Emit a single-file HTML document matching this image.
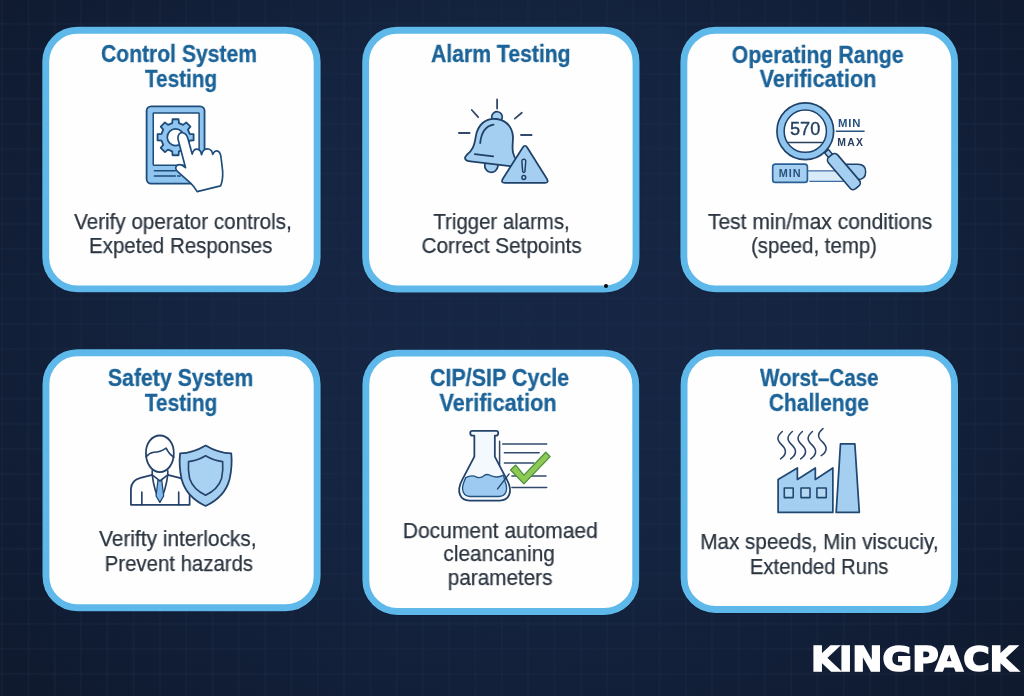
<!DOCTYPE html>
<html lang="en">
<head>
<meta charset="utf-8">
<title>Kingpack – Equipment Qualification Tests</title>
<style>
*{box-sizing:border-box;margin:0;padding:0}
html,body{width:1024px;height:696px;overflow:hidden}
body{position:relative;font-family:"Liberation Sans",sans-serif;background:#14223c;
 background-image:
  radial-gradient(ellipse 64% 76% at 50% 45%, rgba(26,46,82,.60) 0%, rgba(26,46,82,.52) 45%, rgba(26,46,82,.26) 74%, rgba(26,46,82,.0) 100%),
  linear-gradient(to right, rgba(120,150,200,.045) 0, rgba(120,150,200,.045) 1.7px, transparent 1.7px),
  linear-gradient(to bottom, rgba(120,150,200,.045) 0, rgba(120,150,200,.045) 1.7px, transparent 1.7px),
  linear-gradient(#0f1a2f,#0f1a2f);
 background-size:100% 100%, 26.3px 26.3px, 25px 25px, 100% 100%;
 background-position:0 0, 1.2px 0, 0 22.8px, 0 0;
}
.card{position:absolute}
.card h3,.card p{font-weight:normal;font-size:0}
.ln{position:absolute;display:block;white-space:pre;line-height:24px;transform-origin:50% 50%;will-change:transform}
.title .ln{font-weight:bold;font-size:23.0px;color:#1b6398;-webkit-text-stroke:.3px #1b6398}
.body .ln{font-size:21.4px;color:#2b3540;-webkit-text-stroke:.25px #2b3540}
.icon{position:absolute;left:0;top:0;overflow:visible;will-change:transform}
.dot{position:absolute;left:603.6px;top:283.9px;width:4.6px;height:4.6px;border-radius:50%;background:#05070c}
.logo{position:absolute;left:811.2px;top:638.6px;font-family:"DejaVu Sans","Liberation Sans",sans-serif;font-weight:bold;font-size:33.9px;line-height:42px;color:#fff;letter-spacing:0;white-space:nowrap;-webkit-text-stroke:1.6px #fff;transform-origin:0 50%;transform:scaleX(1.064);will-change:transform}
</style>
</head>
<body>
<main>

<section class="card" style="left:40px;top:24px;width:283px;height:271px">
<svg class="icon" width="283" height="271" viewBox="40 24 283 271" aria-hidden="true">
<rect x="41.70" y="26.20" width="279.50" height="266.70" rx="35.6" fill="#0a1730" opacity=".55"/>
<rect x="45.75" y="30.25" width="271.40" height="258.60" rx="31.55" fill="#fefefe" stroke="#5eb9ea" stroke-width="6.9"/>
<g transform="translate(130 95) scale(0.15090)" stroke="#1e4c7b" stroke-linejoin="round" stroke-linecap="round">
<rect x="110" y="75" width="384" height="512" rx="30" fill="#8fc5ee" stroke-width="12"/>
<rect x="154" y="119" width="304" height="346" rx="4" fill="#fff" stroke-width="10"/>
<path d="M162 502H300M162 537H300M316 537H332" fill="none" stroke-width="11"/>
<path d="M279.6,186.7 L282.1,160.6 L321.9,160.6 L324.4,186.7 L352.2,198.1 L372.4,181.6 L400.4,209.6 L383.9,229.8 L395.3,257.6 L421.4,260.1 L421.4,299.9 L395.3,302.4 L383.9,330.2 L400.4,350.4 L372.4,378.4 L352.2,361.9 L324.4,373.3 L321.9,399.4 L282.1,399.4 L279.6,373.3 L251.8,361.9 L231.6,378.4 L203.6,350.4 L220.1,330.2 L208.7,302.4 L182.6,299.9 L182.6,260.1 L208.7,257.6 L220.1,229.8 L203.6,209.6 L231.6,181.6 L251.8,198.1Z" fill="#8fc5ee" stroke-width="12"/>
<circle cx="302" cy="280" r="55" fill="#fff" stroke-width="11"/>
<path d="M318 292 C314 262 332 246 350 250 C368 254 378 268 384 290 L412 392 C418 368 432 356 450 360 C466 364 472 378 474 396 C480 370 498 354 520 358 C538 362 546 376 548 394 C556 374 572 366 586 374 C598 382 602 398 604 420 L614 505 C616 545 612 575 600 602 L445 640 C432 618 420 600 400 582 L318 510 C302 496 298 478 310 468 C326 456 348 462 368 482 Z" fill="#fff" stroke-width="11"/>
</g>
</svg>
<h3 class="title"><span class="ln" style="left:54.31px;top:18.13px;transform:scaleX(0.9178)">Control System</span><span class="ln" style="left:101.21px;top:42.73px;transform:scaleX(0.9004)">Testing</span></h3>
<p class="body"><span class="ln" style="left:29.65px;top:186.18px;transform:scaleX(0.9633)">Verify operator controls,</span><span class="ln" style="left:45.28px;top:210.28px;transform:scaleX(0.9580)">Expeted Responses</span></p>
</section>
<section class="card" style="left:360px;top:24px;width:282px;height:271px">
<svg class="icon" width="282" height="271" viewBox="360 24 282 271" aria-hidden="true">
<rect x="361.60" y="26.20" width="278.50" height="266.90" rx="35.6" fill="#0a1730" opacity=".55"/>
<rect x="365.65" y="30.25" width="270.40" height="258.80" rx="31.55" fill="#fefefe" stroke="#5eb9ea" stroke-width="6.9"/>
<g stroke="#1f4168" stroke-linejoin="round" stroke-linecap="round">
<path d="M497.1 99.4V108.6M471.8 110L478.2 117.2M514.8 118.6L521.8 112.8M458.9 133H469.6M521 135H531.6" fill="none" stroke="#33496b" stroke-width="1.8"/>
<g transform="translate(497 117) rotate(7)">
<circle cx="0.3" cy="49" r="6.6" fill="#a5cff1" stroke-width="1.7"/>
<circle cx="0" cy="0" r="5.3" fill="#a5cff1" stroke-width="1.7"/>
<path d="M0 2 C11.5 2 18.4 10.5 18.7 22 C19 32 20.5 36.5 25.5 41.5 C28 44.5 26.5 47.2 23 47.2 H-23 C-26.5 47.2 -28 44.5 -25.5 41.5 C-20.5 36.5 -19 32 -18.7 22 C-18.4 10.5 -11.5 2 0 2Z" fill="#a5cff1" stroke-width="1.8"/>
<path d="M-13.5 28 C-13.8 17 -10.5 10.5 -2.5 8" fill="none" stroke-width="1.8"/>
<path d="M-17.5 39.5H1" fill="none" stroke-width="1.7"/>
</g>
<path d="M522.6 147.7 Q525 143.8 527.4 147.7 L547 179 Q549.1 182.9 544.9 182.9 H504.8 Q500.6 182.9 502.7 179 Z" fill="#a5cff1" stroke-width="1.7"/>
<path d="M523.8 159.3 Q525.9 159.3 525.7 161.6 L524.9 171.6 Q523.8 173.2 522.7 171.6 L521.9 161.6 Q521.7 159.3 523.8 159.3Z" fill="#b4d8f4" stroke-width="1.5"/>
<circle cx="523.8" cy="177.5" r="1.9" fill="#b4d8f4" stroke-width="1.5"/>
</g>
</svg>
<h3 class="title"><span class="ln" style="left:64.67px;top:18.33px;transform:scaleX(0.9205)">Alarm Testing</span></h3>
<p class="body"><span class="ln" style="left:70.35px;top:186.18px;transform:scaleX(0.9532)">Trigger alarms,</span><span class="ln" style="left:58.99px;top:210.28px;transform:scaleX(0.9696)">Correct Setpoints</span></p>
</section>
<section class="card" style="left:678px;top:24px;width:283px;height:271px">
<svg class="icon" width="283" height="271" viewBox="678 24 283 271" aria-hidden="true">
<rect x="679.80" y="26.20" width="278.90" height="266.70" rx="35.6" fill="#0a1730" opacity=".55"/>
<rect x="683.85" y="30.25" width="270.80" height="258.60" rx="31.55" fill="#fefefe" stroke="#5eb9ea" stroke-width="6.9"/>
<g transform="translate(760 95) scale(0.15094)" stroke="#1f4168" stroke-linejoin="round" stroke-linecap="round" font-family="'Liberation Sans',sans-serif" font-weight="bold">
<path d="M316 505 H560 V570 H316Z" fill="#d9eaf9" stroke="none"/>
<path d="M316 503 H560 M330 572 H560" fill="none" stroke="#3b6da3" stroke-width="8"/>
<path d="M560 458 H648 Q700 458 700 508 Q700 560 648 560 H600Z" fill="#a5cff1" stroke-width="10"/>
<rect x="84" y="458" width="230" height="121" rx="18" fill="#a5cff1" stroke="#2a5f96" stroke-width="11"/>
<text x="200" y="546" font-size="72" text-anchor="middle" fill="#27527f" stroke="none" letter-spacing="7">MIN</text>
<g transform="translate(472 409) rotate(-40.5)">
<rect x="-17" y="-48" width="34" height="60" fill="#a5cff1" stroke-width="10"/>
<rect x="-40" y="-8" width="80" height="274" rx="26" fill="#a5cff1" stroke-width="11"/>
</g>
<circle cx="300" cy="240" r="188" fill="#8fc5ee" stroke-width="11"/>
<circle cx="300" cy="240" r="140" fill="#fff" stroke-width="10"/>
<text x="299" y="268" font-size="120" text-anchor="middle" fill="#27405f" stroke="#27405f" stroke-width="2.5" font-weight="normal">570</text>
<path d="M186 315H414" fill="none" stroke="#27405f" stroke-width="9"/>
<text x="594" y="211" font-size="75" text-anchor="middle" fill="#27527f" stroke="none" letter-spacing="6">MIN</text>
<path d="M506 240H690" fill="none" stroke="#27527f" stroke-width="9"/>
<text x="601" y="337" font-size="69" text-anchor="middle" fill="#27405f" stroke="none" letter-spacing="8">MAX</text>
</g>
</svg>
<h3 class="title"><span class="ln" style="left:47.45px;top:18.53px;transform:scaleX(0.9282)">Operating Range</span><span class="ln" style="left:78.16px;top:43.13px;transform:scaleX(0.9412)">Verification</span></h3>
<p class="body"><span class="ln" style="left:28.27px;top:186.18px;transform:scaleX(0.9831)">Test min/max conditions</span><span class="ln" style="left:69.89px;top:210.28px;transform:scaleX(0.9543)">(speed, temp)</span></p>
</section>
<section class="card" style="left:40px;top:347px;width:283px;height:267px">
<svg class="icon" width="283" height="267" viewBox="40 347 283 267" aria-hidden="true">
<rect x="41.90" y="348.70" width="279.30" height="263.10" rx="35.6" fill="#0a1730" opacity=".55"/>
<rect x="45.95" y="352.75" width="271.20" height="255.00" rx="31.55" fill="#fefefe" stroke="#5eb9ea" stroke-width="6.9"/>
<g transform="translate(120 425) scale(0.13652)" stroke="#24426a" stroke-linejoin="round" stroke-linecap="round">
<path d="M80 585 V470 Q82 405 150 388 L236 366 L292 440 L350 366 L436 388 Q505 405 510 470 V585Z" fill="#fff" stroke-width="13"/>
<path d="M160 492V585M430 492V585" fill="none" stroke-width="12"/>
<path d="M236 366 Q250 480 292 565 Q335 480 350 366" fill="#fff" stroke-width="12"/>
<path d="M278 406 H306 L320 520 L292 566 L264 520Z" fill="#7fb8ea" stroke-width="9"/>
<path d="M236 335 V366 L292 410 L350 366 V335" fill="#fff" stroke-width="12"/>
<path d="M292 77 C352 77 394 135 394 205 C394 285 350 345 292 345 C234 345 190 285 190 205 C190 135 232 77 292 77Z" fill="#fff" stroke-width="13"/>
<path d="M192 232 Q215 205 248 200 Q296 200 338 170 Q360 215 394 236" fill="none" stroke-width="12"/>
<path d="M627 150 Q720 205 815 208 Q824 300 803 395 Q770 525 627 593 Q484 525 451 395 Q430 300 440 208 Q535 205 627 150Z" fill="#a5cff1" stroke-width="13"/>
<path d="M627 225 Q690 262 752 268 Q757 330 744 392 Q718 472 627 514 Q536 472 510 392 Q497 330 502 268 Q565 262 627 225Z" fill="#a9d1f2" stroke-width="12"/>
</g>
</svg>
<h3 class="title"><span class="ln" style="left:61.92px;top:18.53px;transform:scaleX(0.9253)">Safety System</span><span class="ln" style="left:101.01px;top:43.63px;transform:scaleX(0.9054)">Testing</span></h3>
<p class="body"><span class="ln" style="left:57.48px;top:180.08px;transform:scaleX(0.9738)">Verifty interlocks,</span><span class="ln" style="left:60.78px;top:205.08px;transform:scaleX(0.9523)">Prevent hazards</span></p>
</section>
<section class="card" style="left:360px;top:347px;width:282px;height:270px">
<svg class="icon" width="282" height="270" viewBox="360 347 282 270" aria-hidden="true">
<rect x="361.80" y="349.10" width="278.00" height="266.50" rx="35.6" fill="#0a1730" opacity=".55"/>
<rect x="365.85" y="353.15" width="269.90" height="258.40" rx="31.55" fill="#fefefe" stroke="#5eb9ea" stroke-width="6.9"/>
<g transform="translate(445 420) scale(0.13652)" stroke="#1f4872" stroke-linejoin="round" stroke-linecap="round">
<path d="M400 155V330M422 175H745M435 240H690M435 315H650M490 410H740M490 495H745" fill="none" stroke="#33496b" stroke-width="11"/>
<path d="M200 80 H375 Q390 80 390 97 Q390 115 372 115 H365 V268 L455 440 C500 525 470 590 400 590 H180 C110 590 80 525 125 440 L215 268 V115 H205 Q185 115 185 97 Q185 80 200 80Z" fill="#f4f9fe" stroke="#24426a" stroke-width="13"/>
<path d="M152 422 Q195 398 232 418 Q262 430 290 404 Q312 392 340 410 Q385 428 428 404 L440 450 C468 520 440 560 395 560 H185 C140 560 112 520 140 450 Z" fill="#9ccaf0" stroke="#24527f" stroke-width="10"/>
<path d="M385 505 L470 395" fill="none" stroke="#24426a" stroke-width="10"/>
<path d="M480 366 L518 330 L578 404 L738 236 L770 268 L578 468Z" fill="#8fc955" stroke="#4a8f3a" stroke-width="9"/>
</g>
</svg>
<h3 class="title"><span class="ln" style="left:64.72px;top:18.53px;transform:scaleX(0.9333)">CIP/SIP Cycle</span><span class="ln" style="left:76.36px;top:43.63px;transform:scaleX(0.9445)">Verification</span></h3>
<p class="body"><span class="ln" style="left:41.37px;top:171.58px;transform:scaleX(0.9816)">Document automaed</span><span class="ln" style="left:82.39px;top:195.48px;transform:scaleX(0.9770)">cleancaning</span><span class="ln" style="left:85.98px;top:218.68px;transform:scaleX(0.9683)">parameters</span></p>
</section>
<section class="card" style="left:678px;top:347px;width:282px;height:268px">
<svg class="icon" width="282" height="268" viewBox="678 347 282 268" aria-hidden="true">
<rect x="680.00" y="348.80" width="278.60" height="264.80" rx="35.6" fill="#0a1730" opacity=".55"/>
<rect x="684.05" y="352.85" width="270.50" height="256.70" rx="31.55" fill="#fefefe" stroke="#5eb9ea" stroke-width="6.9"/>
<g transform="translate(760 420) scale(0.14372)" stroke="#1f4872" stroke-linejoin="round" stroke-linecap="round">
<path d="M155 80 C115 114.19999999999999 115 140.8 153 175.0 C189 209.20000000000002 183 243.4 143 270 M225 80 C185 114.19999999999999 185 140.8 223 175.0 C259 209.20000000000002 253 243.4 213 270 M295 80 C255 114.19999999999999 255 140.8 293 175.0 C329 209.20000000000002 323 243.4 283 270 M365 80 C325 114.19999999999999 325 140.8 363 175.0 C399 209.20000000000002 393 243.4 353 270 M438 60 C398 93.84 398 120.16 436 154.0 C472 187.84 466 221.68 426 248" fill="none" stroke="#2b4468" stroke-width="11"/>
<path d="M126 643 V414 L260 334 V414 L385 334 V414 L507 334 V643Z" fill="#a5cff1" stroke-width="12"/>
<path d="M169 473H231V540H169Z M285 473H348V540H285Z M396 473H461V540H396Z" fill="#b4d8f4" stroke-width="11"/>
<path d="M530 643 L560 166 H660 L691 643Z" fill="#a5cff1" stroke-width="12"/>
</g>
</svg>
<h3 class="title"><span class="ln" style="left:74.79px;top:18.53px;transform:scaleX(0.8942)">Worst–Case</span><span class="ln" style="left:86.29px;top:43.63px;transform:scaleX(0.9125)">Challenge</span></h3>
<p class="body"><span class="ln" style="left:17.67px;top:183.08px;transform:scaleX(0.9649)">Max speeds, Min viscuciy,</span><span class="ln" style="left:68.33px;top:207.68px;transform:scaleX(0.9472)">Extended Runs</span></p>
</section>
<span class="dot"></span>
<footer><div class="logo">KINGPACK</div></footer>
</main>
</body>
</html>
